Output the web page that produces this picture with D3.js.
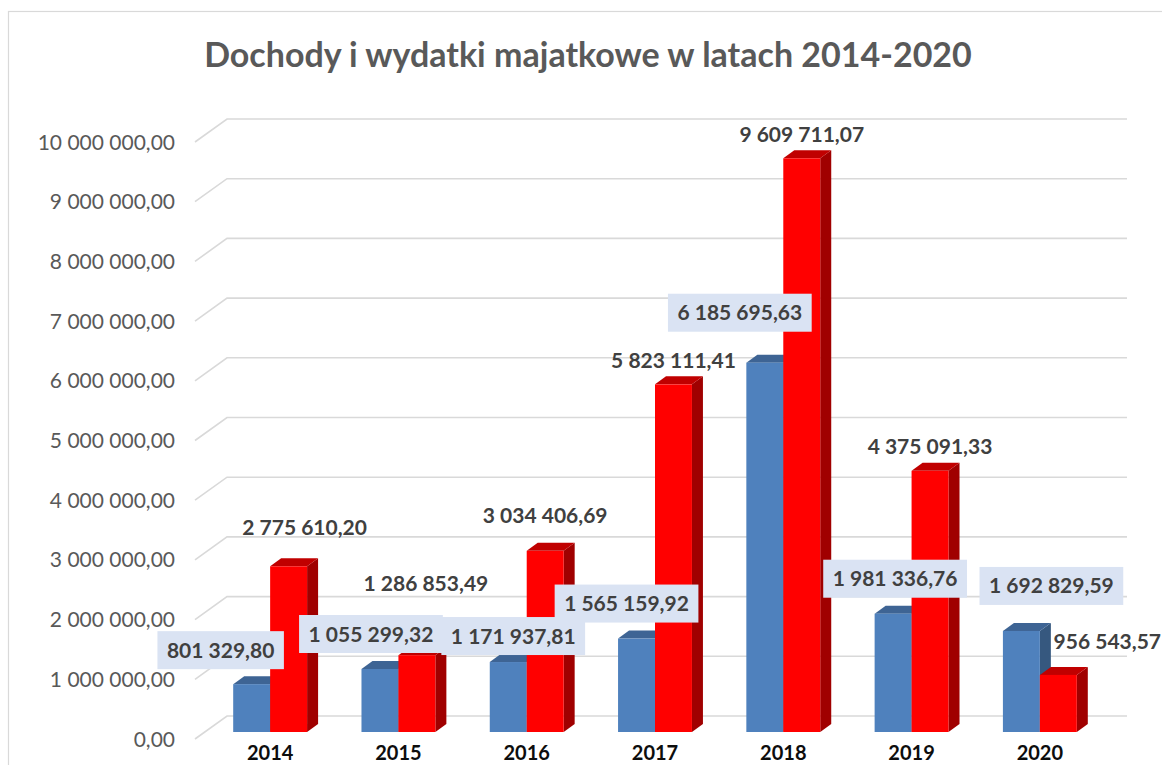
<!DOCTYPE html>
<html><head><meta charset="utf-8">
<script src="https://cdn.jsdelivr.net/npm/d3@7"></script>
<style>
html,body{margin:0;padding:0;background:#fff;}
svg{display:block;}
</style></head>
<body>
<svg id="chart" width="1162" height="765"></svg>
<script>
// ---- data ----
const title = "Dochody i wydatki majatkowe w latach 2014-2020";
const years = ["2014","2015","2016","2017","2018","2019","2020"];
const series = ["dochody","wydatki"];
const dochody = [801329.80, 1055299.32, 1171937.81, 1565159.92, 6185695.63, 1981336.76, 1692829.59];
const wydatki = [2775610.20, 1286853.49, 3034406.69, 5823111.41, 9609711.07, 4375091.33, 956543.57];
const yTicks = [0,1e6,2e6,3e6,4e6,5e6,6e6,7e6,8e6,9e6,10e6];
// label nudges relative to bar top centre (Excel auto placement)
const blueNudge = [[-31,-34],[-9,-35],[5,-26],[-10,-35],[-25,-50],[2,-35],[30,-45]];
const redNudge  = [[16,-39],[9,-72],[0,-35],[0,-24],[0,-24],[0,-24],[49,-33]];

const loc = d3.formatLocale({decimal:",", thousands:"\u00a0", grouping:[3], currency:["",""]});
const fmt = loc.format(",.2f");

const svg = d3.select("#chart");
const FONT = "Lato, 'Open Sans', sans-serif";

// border
svg.append("rect").attr("x",8.5).attr("y",11.5).attr("width",1170).attr("height",780)
  .attr("fill","#fff").attr("stroke","#d9d9d9").attr("stroke-width",1.2);

// title
svg.append("text").attr("x",588).attr("y",67).attr("text-anchor","middle")
  .attr("font-family",FONT).attr("font-weight","bold").attr("font-size",34)
  .attr("fill","#595959").text(title);

// scales
const x = d3.scaleBand().domain(years).range([206, 1104]).padding(0);
const barW = x.bandwidth()*0.288;
const xs = d3.scaleBand().domain(series).range([-barW, barW]).padding(0);
const y = d3.scaleLinear().domain([0,10e6]).range([739,142]);
const depthX = 32, depthY = -23;       // wall depth
const barOffY = -7;                    // bars sit mid-depth
const bdx = 11, bdy = -8;              // bar depth
const yb = v => y(v) + barOffY;

// gridlines
const grid = svg.append("g");
yTicks.forEach(t=>{
  const y0 = y(t);
  grid.append("path")
    .attr("d", `M195,${y0} L${195+depthX},${y0+depthY} H1127`)
    .attr("fill","none").attr("stroke","#d9d9d9").attr("stroke-width",1.6);
});

// y axis labels
svg.append("g").selectAll("text").data(yTicks).join("text")
  .attr("x",175).attr("y",d=>y(d)).attr("dy","0.36em").attr("text-anchor","end")
  .attr("font-family",FONT).attr("font-size",21).attr("fill","#595959")
  .text(d=>fmt(d));

// bars
const colors = {
  dochody:{front:"#4f81bd", top:"#3e6494", side:"#36587f"},
  wydatki:{front:"#ff0000", top:"#c00000", side:"#a00000"}
};
function bar3d(g, x0, w, v, c){
  const yt = yb(v), y0 = yb(0);
  g.append("path").attr("d",`M${x0+w},${yt} L${x0+w+bdx},${yt+bdy} L${x0+w+bdx},${y0+bdy} L${x0+w},${y0} Z`).attr("fill",c.side);
  g.append("path").attr("d",`M${x0},${yt} L${x0+bdx},${yt+bdy} L${x0+w+bdx},${yt+bdy} L${x0+w},${yt} Z`).attr("fill",c.top);
  g.append("rect").attr("x",x0).attr("y",yt).attr("width",w).attr("height",y0-yt).attr("fill",c.front);
}
const bars = svg.append("g");
years.forEach((yr,i)=>{
  const cx = x(yr)+x.bandwidth()/2;
  bar3d(bars, cx+xs("dochody"), xs.bandwidth(), dochody[i], colors.dochody);
  bar3d(bars, cx+xs("wydatki"), xs.bandwidth(), wydatki[i], colors.wydatki);
});

// category labels
svg.append("g").selectAll("text").data(years).join("text")
  .attr("x",d=>x(d)+x.bandwidth()/2).attr("y",753).attr("dy","0.36em")
  .attr("text-anchor","middle").attr("font-family",FONT).attr("font-weight","bold")
  .attr("font-size",20).attr("fill","#0d0d0d").text(d=>d);

// data labels
const lab = svg.append("g");
years.forEach((yr,i)=>{
  const cx = x(yr)+x.bandwidth()/2;
  const bx = cx+xs("dochody")+xs.bandwidth()/2 + blueNudge[i][0];
  const by = yb(dochody[i]) + blueNudge[i][1];
  const gB = lab.append("g");
  const t = gB.append("text").attr("x",bx).attr("y",by).attr("dy","0.36em")
    .attr("text-anchor","middle").attr("font-family",FONT).attr("font-weight","bold")
    .attr("font-size",21).attr("fill","#404040").text(fmt(dochody[i]));
  const bb = t.node().getBBox();
  gB.insert("rect","text").attr("x",bb.x-9.5).attr("y",by-19).attr("width",bb.width+19).attr("height",38)
    .attr("fill","#dae3f3");
});
years.forEach((yr,i)=>{
  const cx = x(yr)+x.bandwidth()/2;
  const rx = cx+xs("wydatki")+xs.bandwidth()/2 + redNudge[i][0];
  const ry = yb(wydatki[i]) + redNudge[i][1];
  lab.append("text").attr("x",rx).attr("y",ry).attr("dy","0.36em")
    .attr("text-anchor","middle").attr("font-family",FONT).attr("font-weight","bold")
    .attr("font-size",21).attr("fill","#404040").text(fmt(wydatki[i]));
});
</script>
</body></html>
